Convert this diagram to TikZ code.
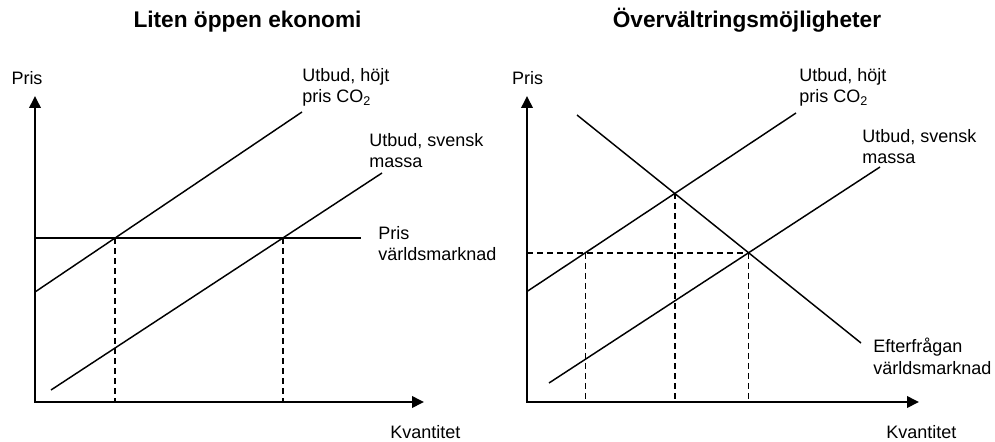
\documentclass[tikz,border=0pt]{standalone}
\usepackage{fontspec}
\setmainfont{Liberation Sans}
\usetikzlibrary{arrows.meta,intersections}
\begin{document}
\begin{tikzpicture}[x=0.75pt,y=-0.75pt,
  axis/.style={line width=1.9pt,{Triangle[length=9pt,width=8.5pt]}-{Triangle[length=9pt,width=8.5pt]}},
  curve/.style={line width=1.1pt},
  guide/.style={line width=1.2pt,dash pattern=on 4.5pt off 3pt},
  lbl/.style={font=\fontsize{13.5}{16.1}\selectfont,align=left,inner sep=0pt,anchor=north west},
  axlbl/.style={font=\fontsize{13.5}{16.1}\selectfont,inner sep=0pt},
  ttl/.style={font=\bfseries\fontsize{17}{20}\selectfont,inner sep=0pt,anchor=base}]
\useasboundingbox (0,0) rectangle (995,442);

% ---------- titles ----------
\node[ttl] (T1) at (247.5,28) {Liten öppen ekonomi};
\node[ttl] (T2) at (747,28) {Övervältringsmöjligheter};

% ---------- left panel ----------
\coordinate (LO) at (35,402);
\coordinate (LY) at (35,96);
\coordinate (LX) at (424,402);
\coordinate (LS1a) at (35,292);
\coordinate (LS1b) at (302,112);
\coordinate (LS2a) at (51,390);
\coordinate (LS2b) at (382,173);
\coordinate (LPa) at (35,238);
\coordinate (LPb) at (361,238);

\draw[curve,name path=LS1] (LS1a) -- (LS1b);
\draw[curve,name path=LS2] (LS2a) -- (LS2b);
\draw[curve,name path=LP] (LPa) -- (LPb);
\path[name intersections={of=LS1 and LP,by=LA}];
\path[name intersections={of=LS2 and LP,by=LB}];
\draw[guide] (LA) -- (LA |- LO);
\draw[guide] (LB) -- (LB |- LO);
\draw[axis] (LY) -- (LO) -- (LX);

\node[axlbl] (LPris) at (27,78) {Pris};
\node[axlbl,anchor=west] (LKv) at (390,432) {Kvantitet};
\node[lbl] (LL1) at (302,68) {Utbud, höjt\\pris CO\textsubscript{2}};
\node[lbl] (LL2) at (369,133) {Utbud, svensk\\massa};
\node[lbl] (LL3) at (378,226) {Pris\\världsmarknad};

% ---------- right panel ----------
\coordinate (RO) at (527,402);
\coordinate (RY) at (527,96);
\coordinate (RX) at (919,402);
\coordinate (RS1a) at (527,291.5);
\coordinate (RS1b) at (796,113);
\coordinate (RS2a) at (549,383);
\coordinate (RS2b) at (880,167);
\coordinate (RDa) at (577,115);
\coordinate (RDb) at (861,343);

\draw[curve,name path=RS1] (RS1a) -- (RS1b);
\draw[curve,name path=RS2] (RS2a) -- (RS2b);
\draw[curve,name path=RD] (RDa) -- (RDb);
\path[name intersections={of=RD and RS2,by=RB}];
\path[name intersections={of=RD and RS1,by=RC}];
\draw[guide,name path=RH] (RO |- RB) -- (RB);
\path[name intersections={of=RS1 and RH,by=RA}];
\draw[guide] (RA) -- (RA |- RO);
\draw[guide] (RC) -- (RC |- RO);
\draw[guide] (RB) -- (RB |- RO);
\draw[axis] (RY) -- (RO) -- (RX);

\node[axlbl] (RPris) at (527.5,78) {Pris};
\node[axlbl,anchor=west] (RKv) at (886,432) {Kvantitet};
\node[lbl] (RL1) at (799,68) {Utbud, höjt\\pris CO\textsubscript{2}};
\node[lbl] (RL2) at (862,129) {Utbud, svensk\\massa};
\node[lbl] (RL3) at (873,338) {Efterfrågan\\världsmarknad};
\end{tikzpicture}
\end{document}
